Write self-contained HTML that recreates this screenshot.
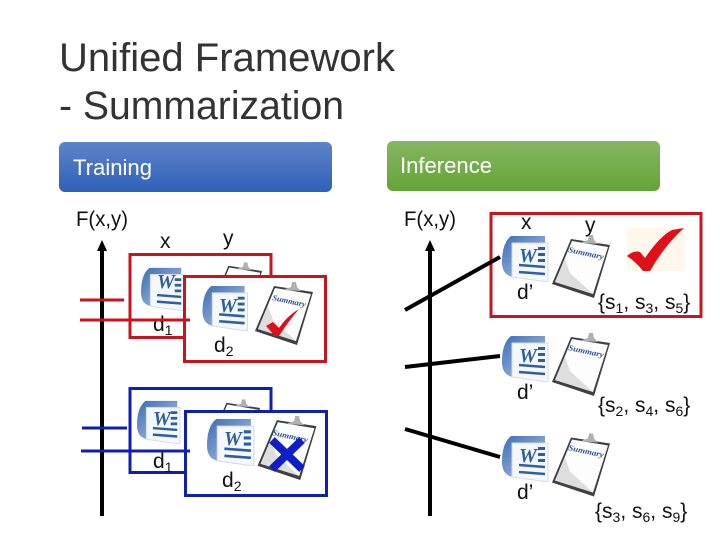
<!DOCTYPE html>
<html><head><meta charset="utf-8"><style>
html,body{margin:0;padding:0;background:#fff}
svg{display:block}
text{font-family:"Liberation Sans",sans-serif;fill:#111}
.l{font-size:21px}
.s{font-size:14px}
.w{font-family:"Liberation Serif",serif;font-weight:bold;font-style:italic;fill:#2f5f9f;font-size:20px}
.t{font-family:"Liberation Serif",serif;font-weight:bold;font-style:italic;fill:#2b4f9c;font-size:8px}
</style></head><body>
<svg width="720" height="540" viewBox="0 0 720 540" xmlns="http://www.w3.org/2000/svg">
<defs>
<linearGradient id="b" x1="0" y1="0" x2="0" y2="1"><stop offset="0" stop-color="#5f83ca"/><stop offset="1" stop-color="#2e61b7"/></linearGradient>
<linearGradient id="g" x1="0" y1="0" x2="0" y2="1"><stop offset="0" stop-color="#87b663"/><stop offset="1" stop-color="#63a535"/></linearGradient>
<linearGradient id="wb" x1="0" y1="0" x2="1" y2="1"><stop offset="0" stop-color="#3d6db5"/><stop offset="1" stop-color="#b5c8e4"/></linearGradient>
<symbol id="word" viewBox="0 0 47 47">
<path d="M9 1H43V8H22V42H11Q0 40 0 27Q0 8 9 1Z" fill="url(#wb)"/>
<path d="M10 8H46V47L10 42Z" fill="#f4f7fb" stroke="#d5dbe4" stroke-width="1"/>
<path d="M36 12h7v3h-7zM36 18h7v3h-7zM36 24h7v3h-7z" fill="#2f5f9f"/>
<path d="M17 30L43 32M17 37L43 39" stroke="#2f5f9f" stroke-width="2.6"/>
</symbol>
<symbol id="clip" viewBox="0 0 58 63">
<path d="M19 4L58 10L42 63L0 49Z" fill="#3f3f44"/>
<path d="M20 6L56 12L41 59L3 47Z" fill="#fdfdfd"/>
<path d="M3 47L13 24L18 38L41 59Z" fill="#dedede"/>
<path d="M30 7L36 5L37 0L41 0L42 5L46 9L30 8Z" fill="#b0b0b0"/>
</symbol>
</defs>
<rect width="720" height="540" fill="#fff"/>

<text x="59" y="71" font-size="40" textLength="336" lengthAdjust="spacingAndGlyphs" style="fill:#333">Unified Framework</text>
<text x="59" y="119" font-size="40" textLength="285" lengthAdjust="spacingAndGlyphs" style="fill:#333">- Summarization</text>

<rect x="59" y="142" width="273" height="50" rx="6" fill="url(#b)"/>
<text x="73" y="175" font-size="22" textLength="79" lengthAdjust="spacingAndGlyphs" style="fill:#fff">Training</text>
<rect x="387" y="141" width="273" height="50" rx="6" fill="url(#g)"/>
<text x="400" y="173" font-size="22" textLength="92" lengthAdjust="spacingAndGlyphs" style="fill:#fff">Inference</text>

<!-- Training axis -->
<text class="l" x="76" y="226" textLength="52" lengthAdjust="spacingAndGlyphs">F(x,y)</text>
<path d="M102 516V248" stroke="#000" stroke-width="4"/>
<path d="M102 240L107 251H97Z" fill="#000"/>
<text class="l" x="160" y="248">x</text>
<text class="l" x="223" y="245">y</text>

<!-- Red group -->
<rect x="130" y="254.500" width="141" height="83" fill="#fff" stroke="#c8141c" stroke-width="3"/>
<use href="#word" x="141" y="266" width="44" height="46"/>
<text class="w" x="157" y="288">W</text>
<use href="#clip" x="212" y="262" width="50" height="55"/>
<text class="l" x="153" y="331">d<tspan class="s" dy="4">1</tspan></text>
<path d="M80 300H124" stroke="#c8141c" stroke-width="3"/>
<rect x="184.500" y="276.500" width="141" height="85" fill="#fff" stroke="#c8141c" stroke-width="3"/>
<path d="M80 320H190" stroke="#c8141c" stroke-width="3"/>
<use href="#word" x="202" y="285" width="47" height="46"/>
<text class="w" x="219" y="312">W</text>
<use href="#clip" x="255" y="282" width="58" height="63"/>
<text class="t" transform="translate(272 300) rotate(12)" textLength="34" lengthAdjust="spacingAndGlyphs">Summary</text>
<path d="M266 326L273 322L279 328Q287 316 299 309Q288 322 279 336L274 336Q271 331 266 326Z" fill="#e0101a"/>
<text class="l" x="214" y="352">d<tspan class="s" dy="4">2</tspan></text>

<!-- Blue group -->
<rect x="130" y="388.500" width="141" height="84" fill="#fff" stroke="#0f1fb0" stroke-width="3"/>
<use href="#word" x="137" y="400" width="44" height="44"/>
<text class="w" x="153" y="425">W</text>
<use href="#clip" x="210" y="399" width="50" height="55"/>
<text class="l" x="153" y="468">d<tspan class="s" dy="4">1</tspan></text>
<path d="M82 428H127" stroke="#0f1fb0" stroke-width="3"/>
<rect x="185.500" y="411.500" width="141" height="84" fill="#fff" stroke="#0f1fb0" stroke-width="3"/>
<path d="M81 451H190" stroke="#0f1fb0" stroke-width="3"/>
<use href="#word" x="207" y="418" width="48" height="48"/>
<text class="w" x="224" y="445">W</text>
<use href="#clip" x="257" y="416" width="60" height="64"/>
<text class="t" transform="translate(272 435) rotate(12)" textLength="36" lengthAdjust="spacingAndGlyphs">Summary</text>
<path d="M272 440L302 469M302 440L272 469" stroke="#0f1fc8" stroke-width="8"/>
<text class="l" x="222" y="487">d<tspan class="s" dy="4">2</tspan></text>

<!-- Inference axis -->
<text class="l" x="404" y="226" textLength="52" lengthAdjust="spacingAndGlyphs">F(x,y)</text>
<path d="M430 516V248" stroke="#000" stroke-width="4"/>
<path d="M430 240L435 251H425Z" fill="#000"/>
<rect x="491" y="213.500" width="210" height="103" fill="none" stroke="#c8141c" stroke-width="3"/>
<path d="M405 310L500 257M405 367L500 356M405 429L500 457" stroke="#000" stroke-width="4"/>
<text class="l" x="521" y="229">x</text>
<text class="l" x="585" y="232">y</text>

<use href="#word" x="502" y="235" width="47" height="47"/>
<text class="w" x="519" y="262">W</text>
<use href="#clip" x="552" y="235" width="58" height="63"/>
<text class="t" transform="translate(568 252) rotate(12)" textLength="36" lengthAdjust="spacingAndGlyphs">Summary</text>
<rect x="627" y="228" width="58" height="43" fill="#fdf7ec"/>
<path d="M627 256Q634 250 640 252L645 258Q660 236 672 230L684 228Q665 245 650 271L643 271Q636 262 627 256Z" fill="#e0101a"/>
<text class="l" x="517" y="299">d’</text>
<text class="l" x="598" y="309">{s<tspan class="s" dy="4">1</tspan><tspan dy="-4">, s</tspan><tspan class="s" dy="4">3</tspan><tspan dy="-4">, s</tspan><tspan class="s" dy="4">5</tspan><tspan dy="-4">}</tspan></text>

<use href="#word" x="502" y="335" width="47" height="47"/>
<text class="w" x="519" y="362">W</text>
<use href="#clip" x="552" y="333" width="58" height="63"/>
<text class="t" transform="translate(568 350) rotate(12)" textLength="36" lengthAdjust="spacingAndGlyphs">Summary</text>
<text class="l" x="517" y="399">d’</text>
<text class="l" x="598" y="412">{s<tspan class="s" dy="4">2</tspan><tspan dy="-4">, s</tspan><tspan class="s" dy="4">4</tspan><tspan dy="-4">, s</tspan><tspan class="s" dy="4">6</tspan><tspan dy="-4">}</tspan></text>

<use href="#word" x="502" y="435" width="47" height="47"/>
<text class="w" x="519" y="462">W</text>
<use href="#clip" x="552" y="433" width="58" height="64"/>
<text class="t" transform="translate(568 450) rotate(12)" textLength="36" lengthAdjust="spacingAndGlyphs">Summary</text>
<text class="l" x="517" y="499">d’</text>
<text class="l" x="595" y="518">{s<tspan class="s" dy="4">3</tspan><tspan dy="-4">, s</tspan><tspan class="s" dy="4">6</tspan><tspan dy="-4">, s</tspan><tspan class="s" dy="4">9</tspan><tspan dy="-4">}</tspan></text>
</svg>
</body></html>
